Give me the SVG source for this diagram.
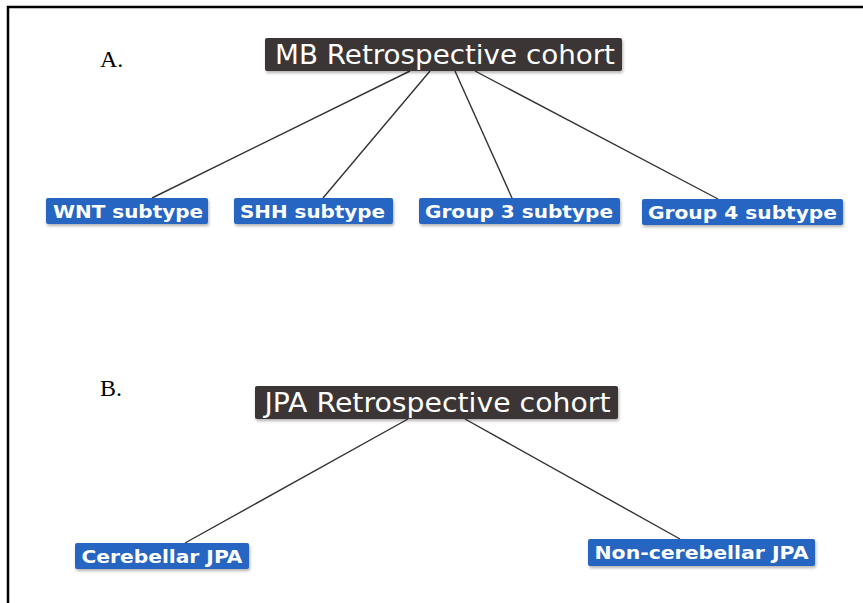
<svg xmlns="http://www.w3.org/2000/svg" width="863" height="603" viewBox="0 0 863 603">
<defs>
<filter id="sh" x="-10%" y="-30%" width="120%" height="170%">
<feDropShadow dx="1" dy="2" stdDeviation="1.5" flood-color="#000" flood-opacity="0.3"/>
</filter>
</defs>
<style>
.dark{fill:#3a3634;}
.blue{fill:#2566c2;}
.tdark{font-family:"DejaVu Sans",Verdana,sans-serif;font-size:26px;fill:#fff;text-anchor:middle;}
.tblue{font-family:"DejaVu Sans",Verdana,sans-serif;font-size:18px;font-weight:bold;fill:#fff;text-anchor:middle;}
.lab{font-family:"Liberation Serif","Times New Roman",serif;font-size:24px;fill:#000;}
.c{stroke:#333;stroke-width:1.4;fill:none;}
</style>
<rect width="863" height="603" fill="#fff"/>
<path d="M8,603 V7 H863" stroke="#000" stroke-width="2.5" fill="none"/>
<text class="lab" x="100" y="67">A.</text>
<text class="lab" x="100" y="396">B.</text>
<g id="connectors">
<line class="c" x1="410" y1="71" x2="152" y2="198"/>
<line class="c" x1="430" y1="71" x2="323" y2="198"/>
<line class="c" x1="455" y1="71" x2="512" y2="198"/>
<line class="c" x1="475" y1="71" x2="718" y2="199"/>
<line class="c" x1="408" y1="419" x2="185" y2="543"/>
<line class="c" x1="465" y1="419" x2="680" y2="539"/>
</g>
<g id="mb">
<rect class="dark" x="265" y="38" width="357" height="33" rx="2" filter="url(#sh)"/>
<text class="tdark" x="445" y="64" textLength="340" lengthAdjust="spacingAndGlyphs">MB Retrospective cohort</text>
</g>
<g id="wnt">
<rect class="blue" x="46" y="198" width="162" height="26" rx="2" filter="url(#sh)"/>
<text class="tblue" x="128" y="218" textLength="150" lengthAdjust="spacingAndGlyphs">WNT subtype</text>
</g>
<g id="shh">
<rect class="blue" x="234" y="198" width="159" height="26" rx="2" filter="url(#sh)"/>
<text class="tblue" x="312.5" y="218" textLength="145" lengthAdjust="spacingAndGlyphs">SHH subtype</text>
</g>
<g id="g3">
<rect class="blue" x="419" y="198" width="201" height="26" rx="2" filter="url(#sh)"/>
<text class="tblue" x="519" y="218" textLength="188" lengthAdjust="spacingAndGlyphs">Group 3 subtype</text>
</g>
<g id="g4">
<rect class="blue" x="642" y="199" width="201" height="26" rx="2" filter="url(#sh)"/>
<text class="tblue" x="742.5" y="219" textLength="189" lengthAdjust="spacingAndGlyphs">Group 4 subtype</text>
</g>
<g id="jpa">
<rect class="dark" x="255" y="386" width="363" height="33" rx="2" filter="url(#sh)"/>
<text class="tdark" x="437.5" y="412" textLength="346" lengthAdjust="spacingAndGlyphs">JPA Retrospective cohort</text>
</g>
<g id="cereb">
<rect class="blue" x="75" y="543" width="174" height="26" rx="2" filter="url(#sh)"/>
<text class="tblue" x="162" y="563" textLength="161" lengthAdjust="spacingAndGlyphs">Cerebellar JPA</text>
</g>
<g id="noncereb">
<rect class="blue" x="588" y="539" width="227" height="27" rx="2" filter="url(#sh)"/>
<text class="tblue" x="701.5" y="559" textLength="214" lengthAdjust="spacingAndGlyphs">Non-cerebellar JPA</text>
</g>
</svg>
